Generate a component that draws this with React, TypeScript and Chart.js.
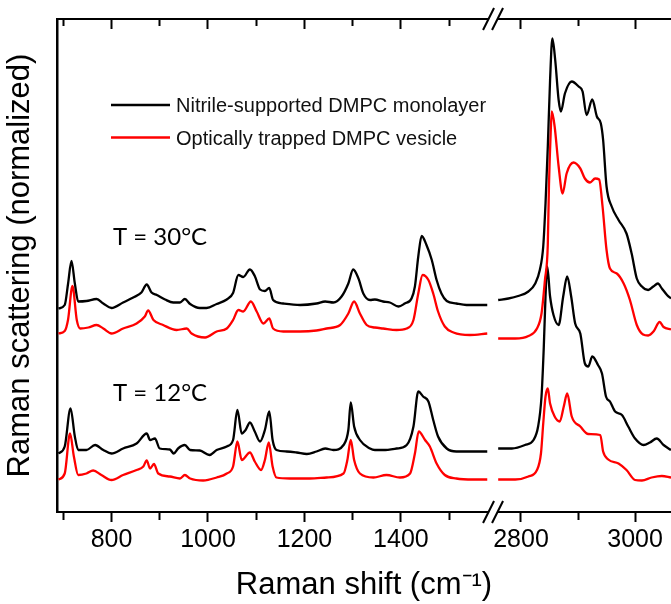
import React, { useEffect, useRef } from 'react';
import { Chart, registerables, LinearScale } from 'chart.js';

Chart.register(...registerables);

// ---------- Data (Raman shift in cm^-1, normalized intensity, offset for display) ----------
const MONO_30_SHIFT = [
  690, 703, 710, 717, 724, 731, 748, 769, 783, 800, 824, 845, 862, 873, 883, 894, 911, 928, 942, 952,
  963, 983, 997, 1018, 1039, 1052, 1063, 1073, 1087, 1097, 1108, 1118, 1127, 1135, 1156, 1191, 1225, 1243, 1260, 1277,
  1291, 1301, 1312, 1322, 1336, 1346, 1363, 1377, 1395, 1408, 1422, 1429, 1436, 1443, 1453, 1464, 1474, 1484, 1495, 1515,
  1536, 1557, 1579,
  2760, 2778, 2795, 2813, 2825, 2833, 2839, 2843, 2847, 2851, 2855, 2860, 2866, 2870, 2877, 2889, 2901, 2908, 2915, 2925,
  2933, 2940, 2944, 2950, 2959, 2971, 2985, 2994, 3003, 3012, 3023, 3032, 3040, 3047, 3056, 3063,
];
const MONO_30_INTENSITY = [
  40.7, 41.4, 45.7, 50.2, 45.7, 42.1, 42.2, 42.6, 41.7, 40.8, 41.9, 42.9, 43.9, 45.5, 43.9, 43.4, 42.5, 41.9, 41.9, 42.6,
  41.6, 40.8, 40.8, 41.6, 42.5, 43.8, 47.4, 47.0, 48.5, 47.2, 44.5, 44.2, 44.8, 42.4, 41.7, 41.4, 41.7, 42.1, 41.9, 43.1,
  45.7, 48.5, 46.7, 43.7, 42.4, 42.5, 42.1, 41.9, 41.1, 41.7, 42.7, 45.1, 51.1, 55.2, 53.4, 50.4, 46.4, 43.7, 42.2, 41.7,
  41.4, 41.4, 41.4,
  42.4, 42.7, 43.2, 44.1, 45.7, 48.4, 53.1, 61.7, 73.1, 86.4, 94.7, 90.4, 82.4, 80.1, 83.7, 86.1, 85.1, 84.1, 79.4, 82.5,
  79.1, 77.7, 74.4, 65.1, 61.1, 58.4, 55.7, 51.7, 46.7, 45.1, 44.4, 45.1, 45.7, 44.7, 43.4, 42.7,
];

const VESICLE_30_SHIFT = [
  690, 703, 710, 719, 728, 735, 752, 769, 783, 800, 824, 852, 869, 876, 887, 907, 935, 956, 966, 994,
  1018, 1039, 1052, 1063, 1073, 1089, 1101, 1115, 1127, 1135, 1156, 1191, 1225, 1246, 1274, 1291, 1303, 1315, 1329, 1346,
  1363, 1391, 1412, 1426, 1436, 1445, 1457, 1467, 1477, 1491, 1509, 1543, 1579,
  2760, 2790, 2813, 2828, 2836, 2842, 2847, 2849, 2852, 2854, 2859, 2866, 2873, 2880, 2892, 2904, 2912, 2921, 2930, 2937,
  2943, 2950, 2956, 2968, 2980, 2991, 3003, 3014, 3023, 3033, 3043, 3050, 3063,
];
const VESICLE_30_INTENSITY = [
  35.7, 36.2, 38.5, 45.2, 38.4, 36.7, 36.9, 37.4, 36.7, 35.7, 36.7, 37.7, 39.1, 40.3, 38.4, 37.4, 36.4, 36.7, 35.7, 34.9,
  36.1, 36.7, 38.4, 40.4, 40.1, 42.1, 40.1, 37.7, 38.7, 36.7, 36.1, 36.1, 36.3, 36.7, 37.4, 39.7, 42.1, 39.7, 37.4, 36.9,
  36.7, 36.4, 36.7, 38.4, 43.7, 47.4, 46.4, 43.7, 40.1, 37.1, 35.9, 35.4, 35.7,
  34.7, 34.7, 35.2, 36.7, 39.7, 46.4, 53.5, 65.1, 75.7, 80.1, 77.1, 69.1, 63.7, 67.7, 69.9, 68.7, 66.7, 65.9, 66.7, 66.5,
  61.1, 52.4, 48.7, 47.7, 45.7, 42.4, 37.4, 35.5, 35.3, 36.2, 38.0, 37.0, 36.5,
];

const MONO_12_SHIFT = [
  690, 703, 715, 724, 731, 748, 766, 783, 800, 824, 852, 873, 880, 890, 900, 921, 929, 938, 952, 963,
  983, 1003, 1018, 1039, 1052, 1061, 1070, 1078, 1087, 1097, 1108, 1118, 1127, 1134, 1142, 1163, 1184, 1205, 1225, 1243,
  1260, 1281, 1291, 1296, 1303, 1315, 1336, 1346, 1363, 1391, 1412, 1426, 1436, 1446, 1457, 1467, 1477, 1495, 1515, 1543,
  1579,
  2760, 2784, 2807, 2822, 2830, 2836, 2840, 2843, 2846, 2851, 2857, 2866, 2874, 2881, 2888, 2895, 2904, 2912, 2918, 2925,
  2935, 2942, 2949, 2956, 2965, 2977, 2988, 3000, 3015, 3026, 3038, 3050, 3063,
];
const MONO_12_INTENSITY = [
  11.7, 13.1, 20.7, 15.1, 12.4, 12.4, 13.4, 12.4, 11.7, 12.7, 13.7, 15.7, 14.4, 14.7, 12.7, 12.5, 11.7, 12.7, 13.4, 12.4,
  12.3, 11.4, 12.4, 13.1, 14.4, 20.4, 15.7, 16.4, 17.9, 16.1, 14.1, 16.4, 20.1, 14.4, 12.4, 12.1, 11.9, 11.6, 12.1, 12.7,
  12.4, 13.4, 16.4, 21.9, 17.1, 14.4, 12.7, 12.4, 12.4, 12.7, 13.4, 17.1, 24.1, 23.1, 22.1, 18.4, 15.1, 12.7, 12.1, 12.1,
  12.1,
  12.7, 12.7, 13.4, 14.4, 17.1, 23.1, 33.1, 43.1, 49.1, 43.1, 39.4, 37.4, 43.1, 47.1, 43.1, 37.7, 35.7, 29.7, 29.1, 31.1,
  29.4, 27.7, 23.1, 22.1, 20.1, 19.4, 17.1, 14.7, 13.4, 13.9, 14.7, 13.4, 12.4,
];

const VESICLE_12_SHIFT = [
  690, 703, 714, 722, 731, 748, 762, 779, 800, 824, 852, 866, 873, 880, 888, 897, 921, 942, 952, 963,
  990, 1018, 1039, 1052, 1061, 1070, 1087, 1097, 1110, 1118, 1126, 1134, 1142, 1170, 1211, 1246, 1281, 1289, 1296, 1303,
  1315, 1343, 1370, 1398, 1419, 1429, 1437, 1450, 1460, 1474, 1491, 1515, 1550, 1579,
  2760, 2790, 2813, 2828, 2835, 2839, 2843, 2847, 2851, 2859, 2868, 2875, 2881, 2889, 2904, 2918, 2939, 2944, 2953, 2971,
  2985, 3000, 3012, 3029, 3047, 3063,
];
const VESICLE_12_INTENSITY = [
  6.5, 7.7, 15.7, 11.1, 7.4, 7.7, 8.3, 7.4, 6.4, 7.4, 8.4, 9.1, 10.3, 8.7, 9.6, 7.7, 7.1, 6.7, 7.4, 6.7,
  6.3, 6.9, 7.7, 9.1, 14.1, 10.4, 11.9, 10.1, 8.4, 10.4, 13.9, 9.1, 6.9, 6.7, 6.7, 6.9, 7.7, 10.4, 14.4, 10.4,
  7.7, 6.9, 7.4, 6.9, 7.7, 11.7, 16.1, 14.4, 13.1, 9.7, 7.4, 6.7, 6.5, 6.5,
  6.5, 6.5, 7.1, 8.4, 11.7, 17.7, 23.1, 24.7, 21.7, 19.1, 18.1, 21.1, 23.7, 19.1, 17.1, 15.6, 15.4, 12.1, 10.5, 9.7,
  8.4, 6.4, 6.3, 6.9, 7.2, 6.9,
];

const LEGEND_LABELS = ['Nitrile-supported DMPC monolayer', 'Optically trapped DMPC vesicle'];
const TEMP_LABELS = ['T = 30°C', 'T = 12°C'];
const TEMP_LABEL_SHIFT = 803;
const TEMP_LABEL_LEVEL = [53.4, 22.2];

// Broken x axis: two value ranges
const X_MIN = 687;
const X_BREAK_START = 1591;
const X_BREAK_END = 2751;
const X_MAX = 3063;
const RIGHT_DENSITY = 1.1825; // right segment drawn slightly more stretched
const X_TICKS = [700, 800, 900, 1000, 1100, 1200, 1300, 1400, 1500, 2800, 2900, 3000];
const X_LABELED = [800, 1000, 1200, 1400, 2800, 3000];
const Y_MIN = 0;
const Y_MAX = 98.6;

const BLACK = '#000000';
const RED = '#ff0000';
const FONT = "'Liberation Sans', Arial, sans-serif";

function splitFraction() {
  const wL = X_BREAK_START - X_MIN;
  const wR = (X_MAX - X_BREAK_END) * RIGHT_DENSITY;
  return wL / (wL + wR);
}

function decimalFor(v: number) {
  const f = splitFraction();
  if (v <= X_BREAK_START) return ((v - X_MIN) / (X_BREAK_START - X_MIN)) * f;
  if (v >= X_BREAK_END) return f + ((v - X_BREAK_END) / (X_MAX - X_BREAK_END)) * (1 - f);
  return f;
}

class BrokenLinearScale extends LinearScale {
  static id = 'brokenLinear';
  buildTicks() {
    return X_TICKS.map((value) => ({ value }));
  }
  getPixelForValue(value: any) {
    if (value === null || value === undefined || Number.isNaN(+value)) return NaN;
    return this.getPixelForDecimal(decimalFor(+value));
  }
  getValueForPixel(pixel: number) {
    const d = this.getDecimalForPixel(pixel);
    const f = splitFraction();
    if (d <= f) return X_MIN + (d / f) * (X_BREAK_START - X_MIN);
    return X_BREAK_END + ((d - f) / (1 - f)) * (X_MAX - X_BREAK_END);
  }
}
Chart.register(BrokenLinearScale as any);

function toPoints(xs: number[], ys: number[]) {
  const pts: any[] = [];
  for (let i = 0; i < xs.length; i++) {
    if (i > 0 && xs[i - 1] <= X_BREAK_START && xs[i] >= X_BREAK_END) {
      pts.push({ x: (X_BREAK_START + X_BREAK_END) / 2, y: null });
    }
    pts.push({ x: xs[i], y: ys[i] });
  }
  return pts;
}

const minorDashBottom = (ctx: any) => (ctx.tick && X_LABELED.includes(ctx.tick.value) ? [] : [7, 100]);
const minorDashTop = (ctx: any) => (ctx.tick && X_LABELED.includes(ctx.tick.value) ? [] : [0, 3, 7, 100]);

const decorPlugin = {
  id: 'decor',
  afterDatasetsDraw(chart: any) {
    const { ctx, chartArea, scales } = chart;
    const x = scales.x;
    const y = scales.y;
    ctx.save();
    // temperature annotations
    ctx.fillStyle = BLACK;
    ctx.font = "24px Lato, 'Liberation Sans', sans-serif";
    ctx.textBaseline = 'alphabetic';
    ctx.textAlign = 'left';
    TEMP_LABELS.forEach((t, i) => {
      ctx.fillText(t, x.getPixelForValue(TEMP_LABEL_SHIFT), y.getPixelForValue(TEMP_LABEL_LEVEL[i]));
    });
    // legend
    const colors = [chart.data.datasets[0].borderColor, chart.data.datasets[1].borderColor];
    const lx = chartArea.left + 54;
    const rows = [chartArea.top + 86, chartArea.top + 118.5];
    ctx.font = `20px ${FONT}`;
    ctx.textBaseline = 'middle';
    LEGEND_LABELS.forEach((label, i) => {
      ctx.strokeStyle = colors[i];
      ctx.lineWidth = 2.5;
      ctx.beginPath();
      ctx.moveTo(lx, rows[i]);
      ctx.lineTo(lx + 59, rows[i]);
      ctx.stroke();
      ctx.fillStyle = '#111';
      ctx.fillText(label, lx + 65, rows[i] + 1.8);
    });
    ctx.restore();
  },
  afterDraw(chart: any) {
    const { ctx, chartArea, scales } = chart;
    const bp = scales.x.getPixelForValue((X_BREAK_START + X_BREAK_END) / 2);
    ctx.save();
    for (const yy of [chartArea.top, chartArea.bottom]) {
      ctx.fillStyle = '#ffffff';
      ctx.fillRect(bp - 4, yy - 3, 8.5, 6);
      ctx.strokeStyle = BLACK;
      ctx.lineWidth = 2;
      for (const c of [bp - 4.5, bp + 4.5]) {
        ctx.beginPath();
        ctx.moveTo(c - 5.5, yy + 11);
        ctx.lineTo(c + 5.5, yy - 11);
        ctx.stroke();
      }
    }
    ctx.restore();
  },
};

export default function App() {
  const canvasRef = useRef<HTMLCanvasElement | null>(null);

  useEffect(() => {
    if (!canvasRef.current) return;
    Chart.defaults.font.family = FONT;
    Chart.defaults.color = BLACK;
    const mk = (label: string, xs: number[], ys: number[], color: string) => ({
      label,
      data: toPoints(xs, ys),
      borderColor: color,
      backgroundColor: color,
      borderWidth: 2.3,
      pointRadius: 0,
      cubicInterpolationMode: 'monotone',
      spanGaps: false,
      fill: false,
    });
    const chart = new Chart(canvasRef.current, {
      type: 'line',
      data: {
        datasets: [
          mk(LEGEND_LABELS[0] + ' (30°C)', MONO_30_SHIFT, MONO_30_INTENSITY, BLACK),
          mk(LEGEND_LABELS[1] + ' (30°C)', VESICLE_30_SHIFT, VESICLE_30_INTENSITY, RED),
          mk(LEGEND_LABELS[0] + ' (12°C)', MONO_12_SHIFT, MONO_12_INTENSITY, BLACK),
          mk(LEGEND_LABELS[1] + ' (12°C)', VESICLE_12_SHIFT, VESICLE_12_INTENSITY, RED),
        ],
      },
      options: {
        animation: false,
        responsive: false,
        maintainAspectRatio: false,
        devicePixelRatio: 1,
        layout: { padding: 0 },
        events: [],
        plugins: { legend: { display: false }, tooltip: { enabled: false } },
        scales: {
          x: {
            type: 'brokenLinear' as any,
            position: 'bottom',
            min: X_MIN,
            max: X_MAX,
            afterFit: (s: any) => { s.height = 92; },
            border: { display: true, color: BLACK, width: 2 },
            grid: {
              display: true,
              drawOnChartArea: false,
              drawTicks: true,
              tickLength: 10,
              tickWidth: 2,
              tickColor: BLACK,
              tickBorderDash: minorDashBottom as any,
            },
            ticks: {
              autoSkip: false,
              maxRotation: 0,
              minRotation: 0,
              padding: 3,
              color: BLACK,
              font: { size: 25, family: FONT },
              callback: (v: any) => (X_LABELED.includes(+v) ? String(v) : ''),
            },
            title: {
              display: true,
              text: 'Raman shift (cm⁻¹)',
              color: BLACK,
              font: { size: 31, family: FONT },
              padding: { top: 0, bottom: 0 },
            },
          },
          xTop: {
            type: 'brokenLinear' as any,
            position: 'top',
            min: X_MIN,
            max: X_MAX,
            afterFit: (s: any) => { s.height = 19; },
            border: { display: true, color: BLACK, width: 2 },
            grid: {
              display: true,
              drawOnChartArea: false,
              drawTicks: true,
              tickLength: -10,
              tickWidth: 2,
              tickColor: BLACK,
              tickBorderDash: minorDashTop as any,
            },
            ticks: { display: false, autoSkip: false },
          },
          y: {
            type: 'linear',
            position: 'left',
            min: Y_MIN,
            max: Y_MAX,
            afterFit: (s: any) => { s.width = 57; },
            border: { display: true, color: BLACK, width: 2.5 },
            grid: { display: false },
            ticks: { display: false },
            title: {
              display: true,
              text: 'Raman scattering (normalized)',
              color: BLACK,
              font: { size: 31, family: FONT },
              padding: { top: 2, bottom: 0 },
            },
          },
        },
      } as any,
      plugins: [decorPlugin],
    });
    return () => chart.destroy();
  }, []);

  return (
    <div style={{ position: 'fixed', left: 0, top: 0, width: 671, height: 604, background: '#fff', overflow: 'hidden' }}>
      <canvas ref={canvasRef} width={671} height={604} style={{ display: 'block', width: 671, height: 604 }} />
    </div>
  );
}
